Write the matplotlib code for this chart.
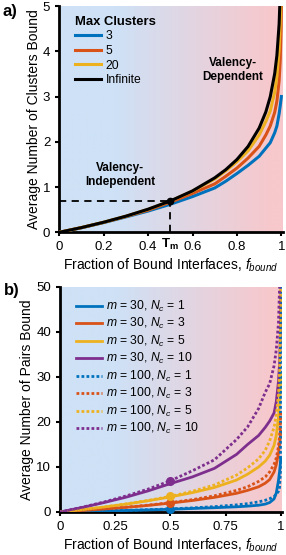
import numpy as np
import matplotlib
matplotlib.use("Agg")
import matplotlib.pyplot as plt
from matplotlib.transforms import blended_transform_factory

plt.rcParams['font.family'] = ['Liberation Sans', 'DejaVu Sans']
plt.rcParams['mathtext.fontset'] = 'custom'
plt.rcParams['mathtext.rm'] = 'Liberation Sans'
plt.rcParams['mathtext.it'] = 'Liberation Sans:italic'
plt.rcParams['mathtext.bf'] = 'Liberation Sans:bold'

# ---- panel a data ----
f_a = [0, 0.1, 0.2, 0.3, 0.4, 0.5, 0.6, 0.7, 0.75, 0.8, 0.85, 0.9, 0.93, 0.95,
       0.97, 0.98, 0.99, 0.995, 0.999, 1.0]
clusters_3 = [0, 0.1, 0.215, 0.34, 0.47, 0.62, 0.79, 0.98, 1.13, 1.3, 1.48, 1.68,
              1.86, 1.98, 2.2, 2.35, 2.62, 2.8, 2.95, 3.0]
clusters_5 = [0, 0.104, 0.22, 0.35, 0.49, 0.665, 0.86, 1.07, 1.24, 1.42, 1.64, 1.9,
              2.15, 2.35, 2.65, 2.9, 3.35, 3.8, 4.5, 5.0]
clusters_20 = [0, 0.105, 0.222, 0.355, 0.508, 0.69, 0.91, 1.18, 1.36, 1.56, 1.8, 2.15,
               2.45, 2.68, 3.1, 3.45, 4.05, 4.6, 5.6, 6.0]
clusters_inf = [0, 0.105, 0.223, 0.357, 0.511, 0.693, 0.916, 1.204, 1.386, 1.609, 1.897,
                2.303, 2.659, 2.996, 3.507, 3.912, 4.605, 5.298, 6.9, 8.0]
max_labels = ['3', '5', '20', 'Infinite']
tm_f = 0.5
tm_val = 0.693

# ---- panel b data ----
f_b = [0, 0.1, 0.2, 0.3, 0.4, 0.5, 0.6, 0.7, 0.8, 0.85, 0.9, 0.93, 0.95, 0.97,
       0.98, 0.99, 0.995, 0.999, 1.0]
m30_nc1 = [0, 0.1, 0.21, 0.33, 0.46, 0.6, 0.78, 0.95, 1.15, 1.3, 1.5, 1.75, 2.1,
           2.9, 4.2, 7.0, 9.0, 11.0, 12.0]
m30_nc3 = [0, 0.31, 0.65, 1.03, 1.46, 1.98, 2.55, 3.25, 4.15, 4.8, 5.6, 6.4, 7.2,
           8.9, 10.5, 13.0, 15.0, 17.0, 18.0]
m30_nc5 = [0, 0.52, 1.1, 1.75, 2.5, 3.35, 4.3, 5.45, 7.1, 8.4, 10.0, 11.3, 12.6,
           14.8, 17.0, 21.0, 24.0, 28.0, 31.0]
m30_nc10 = [0, 1.0, 2.1, 3.3, 4.7, 6.3, 7.8, 9.7, 12.8, 15.0, 17.0, 18.8, 20.2,
            22.0, 24.5, 29.0, 33.0, 40.0, 48.0]
m100_nc1 = [0, 0.105, 0.22, 0.355, 0.51, 0.69, 0.91, 1.19, 1.58, 1.85, 2.25, 2.6,
            2.95, 3.45, 3.9, 4.6, 5.5, 9.0, 55.0]
m100_nc3 = [0, 0.32, 0.67, 1.07, 1.53, 2.08, 2.74, 3.6, 4.8, 5.6, 6.8, 7.8, 8.9,
            10.6, 12.0, 14.5, 17.0, 20.0, 22.0]
m100_nc5 = [0, 0.53, 1.12, 1.8, 2.57, 3.47, 4.6, 6.0, 8.2, 9.8, 11.8, 13.7, 15.8,
            18.8, 21.5, 26.0, 31.0, 42.0, 55.0]
m100_nc10 = [0, 1.05, 2.23, 3.57, 5.1, 6.93, 9.16, 11.6, 16.1, 18.9, 23.0, 26.6,
             28.5, 32.5, 36.0, 42.0, 50.0, 60.0, 70.0]
nc_values = [1, 3, 5, 10]
dot_vals = [0.69, 2.08, 3.47, 6.93]

colors = ['#0072BD', '#D95319', '#EDB120', '#7E2F8E']


def gradient_bg(ax, ymax):
    t = np.linspace(0, 1, 256)
    w = np.clip((t - 0.25) / 0.7, 0, 1)
    blue = np.array([206, 225, 246]) / 255
    pink = np.array([247, 200, 204]) / 255
    img = (1 - w)[:, None] * blue + w[:, None] * pink
    ax.imshow(img[None, :, :], extent=[0, 1.006, 0, ymax], aspect='auto',
              zorder=0, interpolation='bilinear')


def style_axes(ax):
    for s in ['top', 'right']:
        ax.spines[s].set_visible(False)
    for s in ['left', 'bottom']:
        ax.spines[s].set_linewidth(2.0)
    ax.tick_params(direction='out', length=3, width=1.5, labelsize=9.5, pad=3.5)


fig = plt.figure(figsize=(2.86, 5.55), dpi=100)

# ---------------- panel a ----------------
ax = fig.add_axes([0.2073, 0.5814, 0.7811, 0.4077])
gradient_bg(ax, 5)
series_a = [clusters_3, clusters_5, clusters_20, clusters_inf]
for vals, c, lab in zip(series_a, colors[:3] + ['black'], max_labels):
    ax.plot(f_a, vals, color=c, lw=2.2, label=lab, zorder=3)
ax.plot([0, tm_f], [tm_val, tm_val], ls=(0, (4, 3)), color='black', lw=1.3, zorder=4)
ax.plot([tm_f, tm_f], [0, tm_val], ls=(0, (4, 3)), color='black', lw=1.3, zorder=4)
ax.plot([tm_f], [tm_val], 'o', color='black', ms=4.5, zorder=5)
ax.set_xlim(0, 1.006)
ax.set_ylim(0, 5)
ax.set_xticks([0, 0.2, 0.4, 0.6, 0.8, 1])
ax.set_xticklabels(['0', '0.2', '0.4', '0.6', '0.8', '1'])
ax.set_yticks([0, 1, 2, 3, 4, 5])
style_axes(ax)
ax.set_xlabel('Fraction of Bound Interfaces, $f_{bound}$', fontsize=10, labelpad=2.5)
ax.set_ylabel('Average Number of Clusters Bound', fontsize=10, labelpad=1.5)
trans = blended_transform_factory(ax.transData, ax.transAxes)
ax.text(0.5, -0.052, r'$\mathbf{T_m}$', transform=trans, ha='center', va='center',
        fontsize=9.5)
ax.text(0.778, 0.717, 'Valency-\nDependent', transform=ax.transAxes, ha='center',
        va='center', fontsize=8.5, fontweight='bold', linespacing=1.15)
ax.text(0.272, 0.253, 'Valency-\nIndependent', transform=ax.transAxes, ha='center',
        va='center', fontsize=8.5, fontweight='bold', linespacing=1.15)
leg = ax.legend(loc='upper left', bbox_to_anchor=(0.04, 0.99), frameon=False,
                fontsize=8.7, title='Max Clusters', handlelength=2.1,
                handletextpad=0.4, labelspacing=0.22, alignment='left',
                borderaxespad=0.2)
leg.get_title().set_fontweight('bold')
leg.get_title().set_fontsize(9.4)

# ---------------- panel b ----------------
ax2 = fig.add_axes([0.2098, 0.0775, 0.7762, 0.4054])
gradient_bg(ax2, 50)
solid = [m30_nc1, m30_nc3, m30_nc5, m30_nc10]
dotted = [m100_nc1, m100_nc3, m100_nc5, m100_nc10]
for vals, c, nc in zip(solid, colors, nc_values):
    ax2.plot(f_b, vals, color=c, lw=2.0, label=f'$m$ = 30, $N_c$ = {nc}', zorder=3)
for vals, c, nc in zip(dotted, colors, nc_values):
    ax2.plot(f_b, vals, color=c, lw=2.0, ls=(0, (1, 0.8)),
             label=f'$m$ = 100, $N_c$ = {nc}', zorder=3)
for v, c in zip(dot_vals, colors):
    ax2.plot([0.5], [v], 'o', color=c, ms=5.5, zorder=4, clip_on=False)
ax2.set_xlim(0, 1.006)
ax2.set_ylim(0, 50)
ax2.set_xticks([0, 0.25, 0.5, 0.75, 1])
ax2.set_xticklabels(['0', '0.25', '0.5', '0.75', '1'])
ax2.set_yticks([0, 10, 20, 30, 40, 50])
style_axes(ax2)
ax2.set_xlabel('Fraction of Bound Interfaces, $f_{bound}$', fontsize=10, labelpad=2.5)
ax2.set_ylabel('Average Number of Pairs Bound', fontsize=10, labelpad=1.5)
ax2.legend(loc='upper left', bbox_to_anchor=(0.04, 0.98), frameon=False,
           fontsize=8.7, handlelength=2.1, handletextpad=0.4, labelspacing=0.2,
           borderaxespad=0.2)

fig.text(0.035, 0.979, 'a)', fontsize=12, fontweight='bold', ha='center', va='center')
fig.text(0.04, 0.476, 'b)', fontsize=12, fontweight='bold', ha='center', va='center')

fig.savefig('out.png', dpi=100)
